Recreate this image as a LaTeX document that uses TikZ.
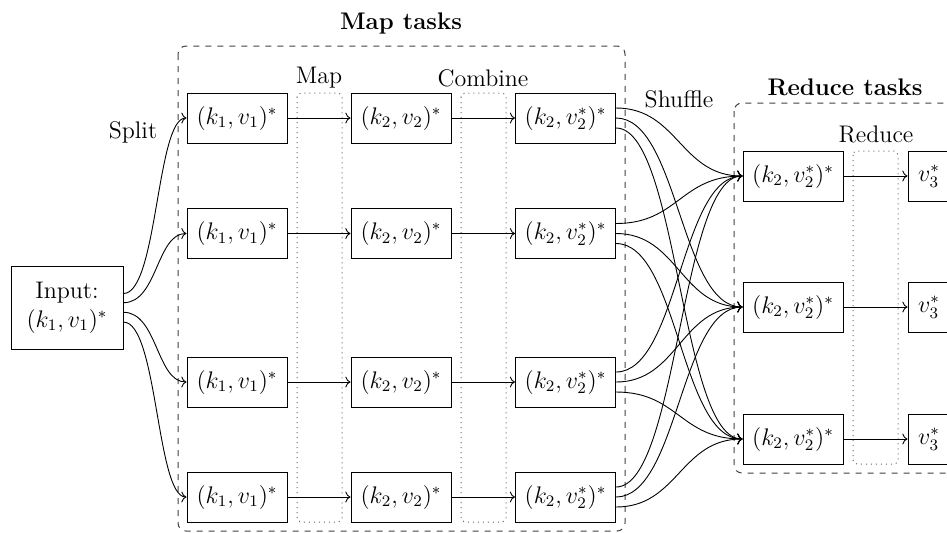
\documentclass[tikz,border=0pt]{standalone}
\usetikzlibrary{arrows.meta}
\begin{document}
\begin{tikzpicture}[x=0.5pt,y=-0.5pt,
  every node/.style={font=\fontsize{12}{14.4}\selectfont},
  box/.style={draw,minimum width=50pt,minimum height=25pt,inner sep=0pt,line width=0.5pt},
  smallbox/.style={draw,minimum width=21pt,minimum height=25pt,inner sep=0pt,line width=0.5pt},
  inbox/.style={draw,minimum width=56pt,minimum height=41.5pt,inner sep=0pt,align=center,line width=0.5pt},
  taskframe/.style={draw=black!75,dashed,rounded corners=4pt,line width=0.5pt},
  phase/.style={draw=black!60,dotted,rounded corners=2pt,line width=0.5pt},
  lbl/.style={inner sep=0pt},
  conn/.style={->,line width=0.45pt}]
\useasboundingbox (0,0) rectangle (947,532);
% frames
\draw[taskframe] (178,46) rectangle (625,531);
\draw[taskframe] (734,103) rectangle (970,473);
\draw[phase] (297,93) rectangle (342,522);
\draw[phase] (461,93) rectangle (506,522);
\draw[phase] (853,151) rectangle (898,464);
% labels
\node[lbl,font=\fontsize{12}{14.4}\selectfont\bfseries] (lmt) at (401,23) {Map tasks};
\node[lbl,font=\fontsize{12}{14.4}\selectfont\bfseries] (lrt) at (845,87) {Reduce tasks};
\node[lbl] (lmap) at (319,78) {Map};
\node[lbl] (lcomb) at (483,78) {Combine};
\node[lbl] (lshuf) at (679,99) {Shuffle};
\node[lbl] (lred) at (876,134) {Reduce};
\node[lbl] (lsplit) at (133,132) {Split};
% input
\node[inbox] (in) at (67,307.5) {Input:\\$(k_1, v_1)^*$};
% columns
\foreach \r/\y in {1/118,2/233.5,3/382,4/497}{
  \node[box] (a\r) at (237,\y) {$(k_1, v_1)^*$};
  \node[box] (b\r) at (401,\y) {$(k_2, v_2)^*$};
  \node[box] (c\r) at (565.5,\y) {$(k_2, v_2^*)^*$};
}
\foreach \r/\y in {1/176,2/307,3/439}{
  \node[box] (d\r) at (793,\y) {$(k_2, v_2^*)^*$};
  \node[smallbox] (e\r) at (929,\y) {$v_3^*$};
}
% split
\tikzset{sp/.style={conn}}
\draw[conn] ([yshift=7pt]in.east) .. controls +(34,0) and +(-30,0) .. (a1.west);
\draw[conn] ([yshift=2.4pt]in.east) .. controls +(34,0) and +(-30,0) .. (a2.west);
\draw[conn] ([yshift=-2.4pt]in.east) .. controls +(34,0) and +(-30,0) .. (a3.west);
\draw[conn] ([yshift=-7.3pt]in.east) .. controls +(34,0) and +(-30,0) .. (a4.west);
% map, combine
\foreach \r in {1,2,3,4}{
  \draw[conn] (a\r.east) -- (b\r.west);
  \draw[conn] (b\r.east) -- (c\r.west);
}
% shuffle
\foreach \r in {1,2,3,4}{
  \draw[conn] ([yshift=5pt]c\r.east) .. controls +(62,0) and +(-62,0) .. (d1.west);
  \draw[conn] (c\r.east) .. controls +(62,0) and +(-62,0) .. (d2.west);
  \draw[conn] ([yshift=-5pt]c\r.east) .. controls +(62,0) and +(-62,0) .. (d3.west);
}
% reduce
\foreach \r in {1,2,3}{
  \draw[conn] (d\r.east) -- (e\r.west);
}
\end{tikzpicture}
\end{document}
